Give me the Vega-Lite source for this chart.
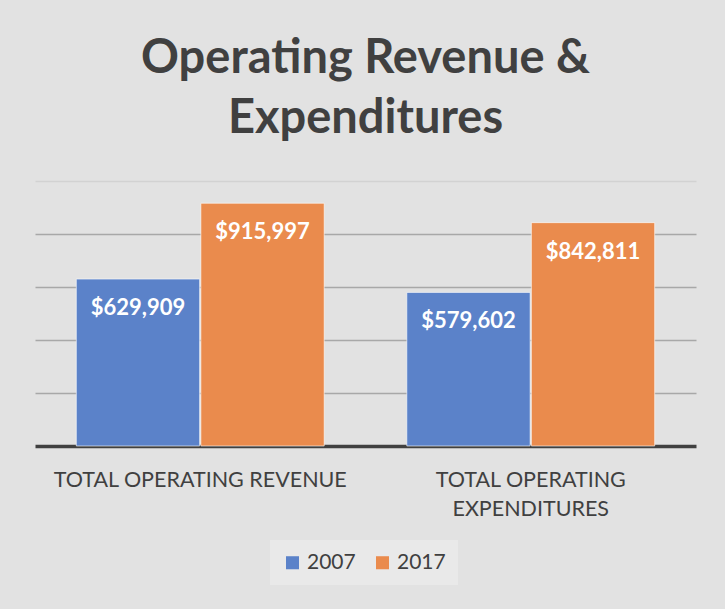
{
  "$schema": "https://vega.github.io/schema/vega-lite/v6.json",
  "width": 661,
  "height": 265,
  "autosize": {"type": "none"},
  "padding": {"left": 35, "top": 181, "right": 29, "bottom": 163},
  "background": "#e2e2e2",
  "title": {
    "text": ["Operating Revenue &", "Expenditures"],
    "font": "Lato",
    "fontSize": 47,
    "fontWeight": "bold",
    "color": "#404040",
    "lineHeight": 60,
    "anchor": "middle",
    "offset": 38
  },
  "data": {
    "values": [
      {"category": "TOTAL OPERATING REVENUE", "year": "2007", "value": 629909},
      {"category": "TOTAL OPERATING REVENUE", "year": "2017", "value": 915997},
      {"category": "TOTAL OPERATING EXPENDITURES", "year": "2007", "value": 579602},
      {"category": "TOTAL OPERATING EXPENDITURES", "year": "2017", "value": 842811}
    ]
  },
  "encoding": {
    "x": {
      "field": "category",
      "type": "nominal",
      "sort": null,
      "scale": {"paddingInner": 0.25, "paddingOuter": 0.125},
      "axis": {
        "title": null,
        "labelAngle": 0,
        "labelFont": "Lato",
        "labelFontSize": 21.5,
        "labelColor": "#404040",
        "labelPadding": 23,
        "labelLimit": 500,
        "labelLineHeight": 29,
        "labelExpr": "datum.value == 'TOTAL OPERATING EXPENDITURES' ? ['TOTAL OPERATING', 'EXPENDITURES'] : datum.value",
        "ticks": false,
        "domainColor": "#404040",
        "domainWidth": 3.5
      }
    },
    "xOffset": {"field": "year", "type": "nominal", "scale": {"paddingInner": 0.01}},
    "y": {
      "field": "value",
      "type": "quantitative",
      "scale": {"domain": [0, 1000000], "nice": false},
      "axis": {
        "title": null,
        "labels": false,
        "ticks": false,
        "domain": false,
        "values": [200000, 400000, 600000, 800000, 1000000],
        "gridColor": {"condition": {"test": "datum.value == 1000000", "value": "#d2d2d2"}, "value": "#a8a8a8"},
        "gridWidth": 1.5
      }
    }
  },
  "layer": [
    {
      "mark": {"type": "bar", "stroke": "#ffffff", "strokeOpacity": 0.6, "strokeWidth": 1},
      "encoding": {
        "color": {
          "field": "year",
          "type": "nominal",
          "scale": {"domain": ["2007", "2017"], "range": ["#5b82c9", "#ea8b4d"]},
          "legend": {
            "title": null,
            "orient": "none",
            "legendX": 235,
            "legendY": 359,
            "direction": "horizontal",
            "symbolType": "square",
            "symbolSize": 170,
            "symbolStrokeWidth": 0,
            "labelFont": "Lato",
            "labelFontSize": 21,
            "labelColor": "#404040",
            "columnPadding": 16,
            "padding": 12,
            "fillColor": "#e9e9e9"
          }
        }
      }
    },
    {
      "mark": {"type": "text", "baseline": "middle", "dy": 29, "color": "#ffffff", "font": "Lato", "fontWeight": "bold", "fontSize": 22},
      "encoding": {
        "text": {"field": "value", "type": "quantitative", "format": "$,.0f"}
      }
    }
  ],
  "config": {"view": {"stroke": null}}
}
